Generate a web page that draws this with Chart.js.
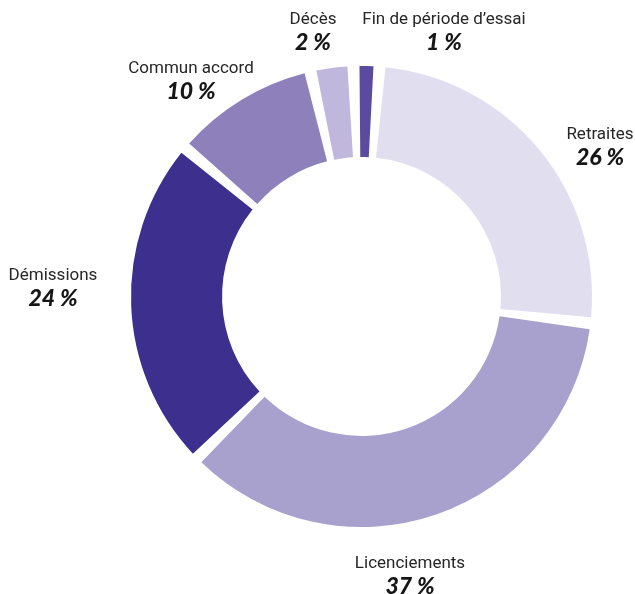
<!DOCTYPE html>
<html lang="fr">
<head>
<meta charset="utf-8">
<script src="https://cdn.jsdelivr.net/npm/chart.js@4/dist/chart.umd.min.js"></script>
<style>
  html, body { margin: 0; padding: 0; background: #fff; }
  #wrap { width: 635px; height: 594px; position: relative; }
</style>
</head>
<body>
<div id="wrap"><canvas id="chart" width="635" height="594"></canvas></div>
<script>
// catégories dans l'ordre du tracé (sens horaire, depuis midi)
const categories = ['Fin de période d\u2019essai', 'Retraites', 'Licenciements', 'Démissions', 'Commun accord', 'Décès'];
const shares = [1.8, 25.6, 35.8, 23.5, 10.3, 3.0];
// textes affichés
const pctLabels = ['1\u00a0%', '26\u00a0%', '37\u00a0%', '24\u00a0%', '10\u00a0%', '2\u00a0%'];

const colors = ['#5b4b9f', '#e1dfef', '#a9a1cd', '#3d2f8d', '#8e81bb', '#bfb8dc'];

const GAP_DEG = 3;

// écart angulaire entre les parts (plus large vers l'extérieur)
const gapPlugin = {
  id: 'gaps',
  afterDatasetsUpdate(chart) {
    const half = (GAP_DEG / 2) * Math.PI / 180;
    chart.getDatasetMeta(0).data.forEach((arc) => {
      arc.startAngle += half;
      arc.endAngle -= half;
      arc.circumference = arc.endAngle - arc.startAngle;
    });
  },
};

// position des étiquettes (centre du texte, ligne de base du nom)
const labelAnchors = [
  { x: 444, y: 24 },
  { x: 600, y: 139 },
  { x: 410, y: 568 },
  { x: 53, y: 280 },
  { x: 191, y: 73 },
  { x: 313, y: 24 },
];

const labelPlugin = {
  id: 'labels',
  afterDraw(chart) {
    const ctx = chart.ctx;
    ctx.save();
    ctx.textAlign = 'center';
    ctx.textBaseline = 'alphabetic';
    categories.forEach((name, i) => {
      const a = labelAnchors[i];
      ctx.fillStyle = '#262626';
      ctx.font = '17px Roboto, "Open Sans", sans-serif';
      ctx.fillText(name, a.x, a.y);
      ctx.fillStyle = '#161616';
      ctx.font = 'italic 900 23px Lato, "DejaVu Sans", sans-serif';
      ctx.fillText(pctLabels[i], a.x, a.y + 26);
    });
    ctx.restore();
  },
};

new Chart(document.getElementById('chart'), {
  type: 'doughnut',
  data: {
    labels: categories,
    datasets: [{
      data: shares,
      backgroundColor: colors,
      borderWidth: 0,
      hoverOffset: 0,
    }],
  },
  options: {
    responsive: false,
    animation: false,
    rotation: -2,
    cutout: '60.5%',
    layout: { padding: { left: 131, right: 43, top: 66, bottom: 67 } },
    plugins: {
      legend: { display: false },
      tooltip: { enabled: false },
    },
  },
  plugins: [gapPlugin, labelPlugin],
});
</script>
</body>
</html>
